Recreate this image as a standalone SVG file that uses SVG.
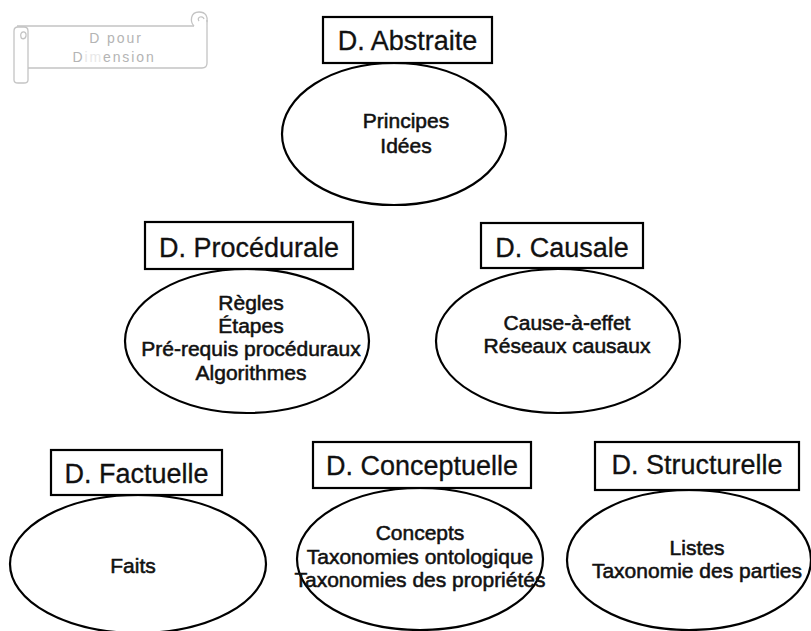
<svg xmlns="http://www.w3.org/2000/svg" width="811" height="631" viewBox="0 0 811 631">
  <style>
    .title { font-family: "Liberation Sans", Arial, sans-serif; font-size: 27px; fill: #111; text-anchor: middle; stroke: #111; stroke-width: 0.3; }
    .body { font-family: "Liberation Sans", Arial, sans-serif; font-size: 21px; fill: #111; text-anchor: middle; stroke: #111; stroke-width: 0.55; }
    .box { fill: #fff; stroke: #000; stroke-width: 2.2; }
    .oval { fill: #fff; stroke: #000; stroke-width: 2.2; }
    .scroll { fill: none; stroke: #c4c4c4; stroke-width: 1.3; }
    .scrolltxt { font-family: "Liberation Sans", Arial, sans-serif; font-size: 14px; letter-spacing: 1.9px; fill: #b4b4b4; text-anchor: middle; }
  </style>
  <rect width="811" height="631" fill="#fff"/>

  <!-- scroll banner legend -->
  <g id="legend">
    <!-- body of the banner -->
    <path class="scroll" d="M17,26 H194 M207,20 V63 Q207,68 202,68 H28"/>
    <!-- left rolled end -->
    <path class="scroll" d="M14,31 Q14,27 18,27 H24 Q28,27 28,31 V80 Q28,83 24,83 H18 Q14,83 14,80 Z"/>
    <path class="scroll" d="M21,37 C19,31 27,30 26,36 C25,40 21,39 21,37 Z"/>
    <!-- top-right curl -->
    <path class="scroll" d="M194,26 C190,22 190,12 199,12 C206,12 208,17 207,22 M199,21 C196,17 203,15 204,19"/>
    <text class="scrolltxt" x="116" y="43">D  pour</text>
    <text class="scrolltxt" x="114" y="62">D<tspan fill="#e8e8e8">im</tspan>ension</text>
  </g>

  <g id="connectors"></g>

  <g id="abstraite">
    <ellipse class="oval" cx="394" cy="134" rx="112" ry="71"/>
    <rect class="box" x="323" y="17" width="169" height="46"/>
    <text class="title" x="407.5" y="50">D. Abstraite</text>
    <text class="body" x="406" y="128">Principes</text>
    <text class="body" x="406" y="153">Idées</text>
  </g>

  <g id="procedurale">
    <ellipse class="oval" cx="247" cy="341" rx="122" ry="72"/>
    <rect class="box" x="145" y="222" width="208" height="47"/>
    <text class="title" x="249" y="257">D. Procédurale</text>
    <text class="body" x="251" y="310">Règles</text>
    <text class="body" x="251" y="333">Étapes</text>
    <text class="body" x="251" y="356">Pré-requis procéduraux</text>
    <text class="body" x="251" y="380">Algorithmes</text>
  </g>

  <g id="causale">
    <ellipse class="oval" cx="558" cy="341" rx="122" ry="72"/>
    <rect class="box" x="481" y="223" width="162" height="45"/>
    <text class="title" x="562" y="257">D. Causale</text>
    <text class="body" x="567" y="330">Cause-à-effet</text>
    <text class="body" x="567" y="353">Réseaux causaux</text>
  </g>

  <g id="factuelle">
    <ellipse class="oval" cx="138" cy="564" rx="128" ry="69"/>
    <rect class="box" x="51" y="450" width="171" height="45"/>
    <text class="title" x="136.5" y="483">D. Factuelle</text>
    <text class="body" x="133" y="573">Faits</text>
  </g>

  <g id="conceptuelle">
    <ellipse class="oval" cx="420" cy="559" rx="123" ry="71"/>
    <rect class="box" x="313" y="442" width="218" height="46"/>
    <text class="title" x="422" y="475">D. Conceptuelle</text>
    <text class="body" x="420" y="540">Concepts</text>
    <text class="body" x="420" y="564">Taxonomies ontologique</text>
    <text class="body" x="420" y="587">Taxonomies des propriétés</text>
  </g>

  <g id="structurelle">
    <ellipse class="oval" cx="689" cy="560" rx="122" ry="70"/>
    <rect class="box" x="595" y="442" width="204" height="48"/>
    <text class="title" x="697" y="474">D. Structurelle</text>
    <text class="body" x="697" y="555">Listes</text>
    <text class="body" x="697" y="578">Taxonomie des parties</text>
  </g>
</svg>
